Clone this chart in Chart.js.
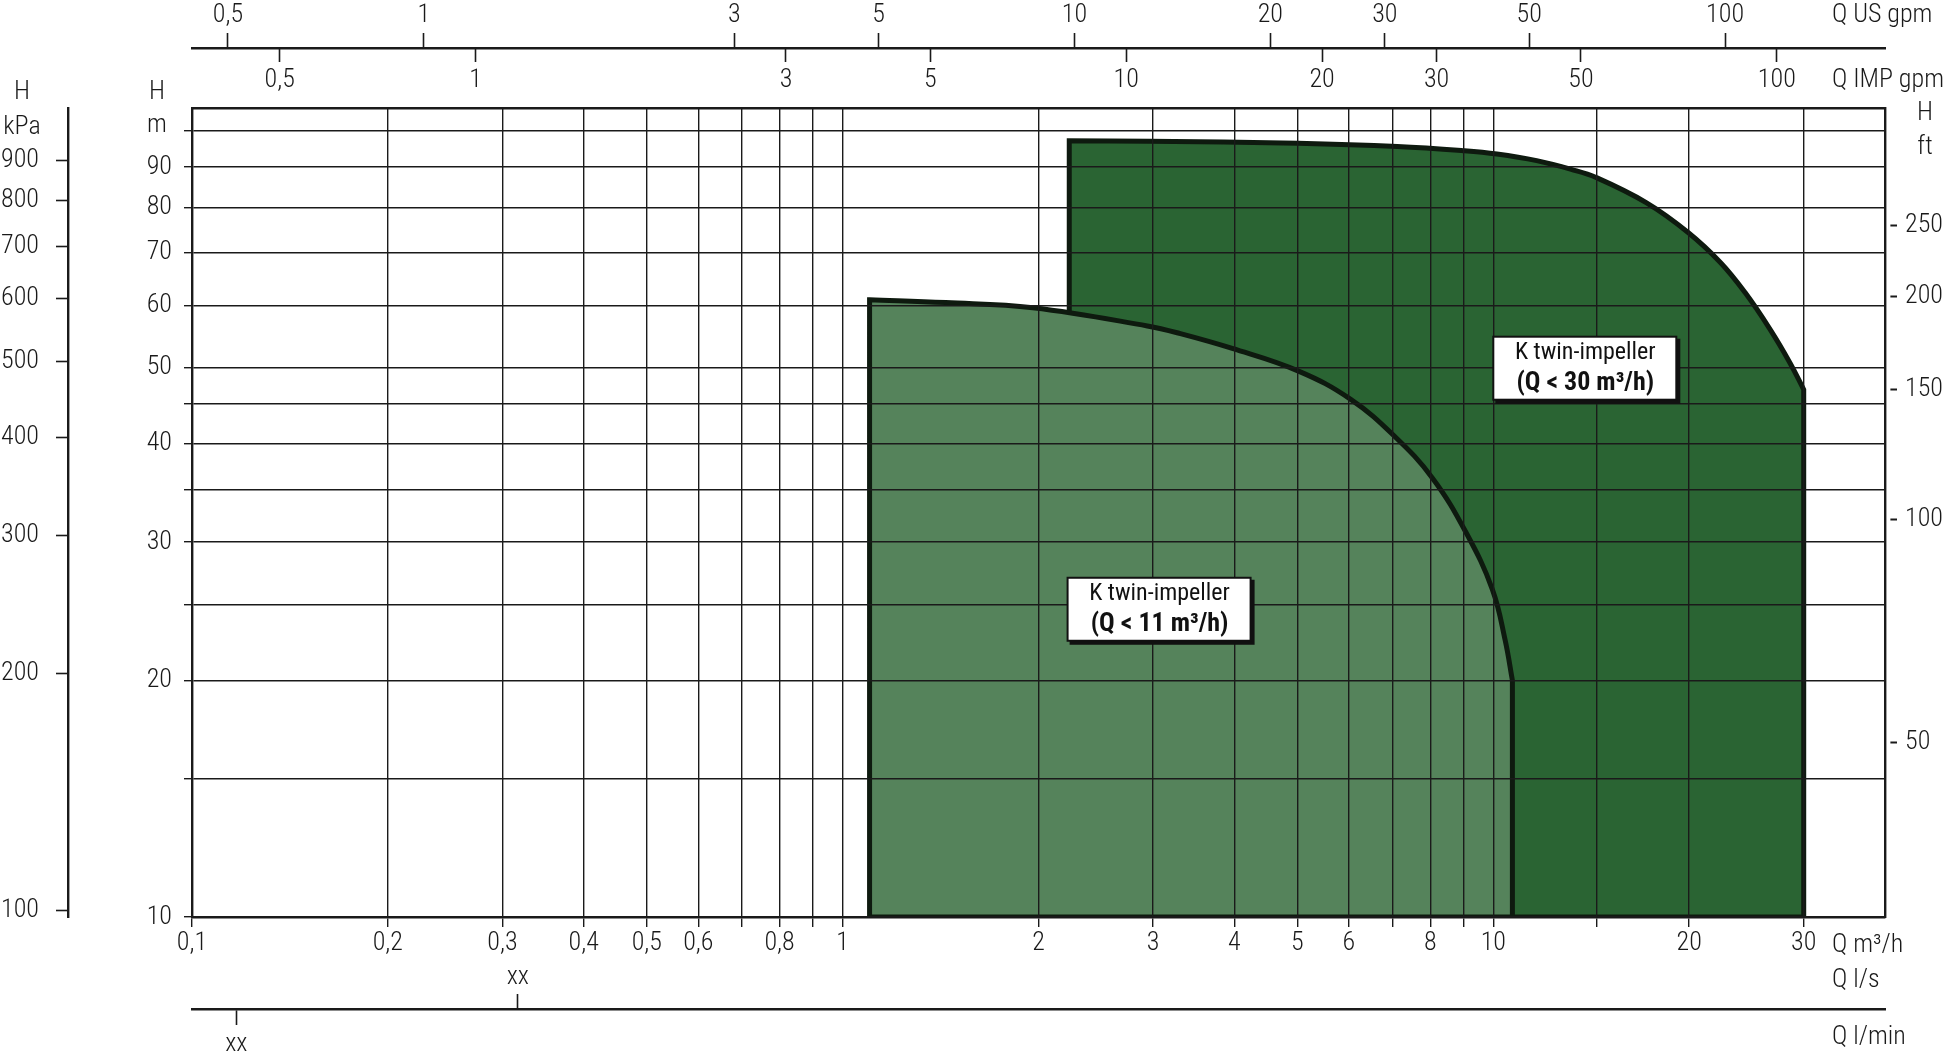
<!DOCTYPE html>
<html>
<head>
<meta charset="utf-8">
<script src="https://cdn.jsdelivr.net/npm/chart.js@4.4.1/dist/chart.umd.min.js"></script>
<style>
  html, body { margin: 0; padding: 0; background: #fff; }
  canvas { display: block; }
</style>
</head>
<body>
<canvas id="chart" width="1946" height="1053"></canvas>
<script>
// valores (Q en m3/h, H en m)
const qTicks = [0.1, 0.2, 0.3, 0.4, 0.5, 0.6, 0.7, 0.8, 0.9, 1, 2, 3, 4, 5, 6, 7, 8, 9, 10, 14.4, 20, 30];
const qTickLabels = ['0,1', '0,2', '0,3', '0,4', '0,5', '0,6', '', '0,8', '', '1', '2', '3', '4', '5', '6', '', '8', '', '10', '', '20', '30'];
const hTicks = [10, 15, 20, 25, 30, 35, 40, 45, 50, 60, 70, 80, 90, 100];
const hTickLabels = ['10', '', '20', '', '30', '', '40', '', '50', '60', '70', '80', '90', ''];
const kpaTicks = [100, 200, 300, 400, 500, 600, 700, 800, 900];
const ftTicks = [50, 100, 150, 200, 250];
const usTicks = [0.5, 1, 3, 5, 10, 20, 30, 50, 100];
const usTickLabels = ['0,5', '1', '3', '5', '10', '20', '30', '50', '100'];
const impTicks = [0.5, 1, 3, 5, 10, 20, 30, 50, 100];
const impTickLabels = ['0,5', '1', '3', '5', '10', '20', '30', '50', '100'];
const lsTicks = [0.088];
const lsTickLabels = ['xx'];
const lminTicks = [1.95];
const lminTickLabels = ['xx'];

// curva superior del campo K twin-impeller (Q < 11 m3/h)
const smallQ = [1.1, 1.44, 1.96, 2.94, 3.29, 3.97, 5.02, 6.03, 7.05, 8.06, 9.09, 9.97, 10.43, 10.7];
const smallH = [61.0, 60.5, 59.6, 56.5, 55.3, 52.9, 49.5, 45.6, 40.9, 36.2, 30.8, 26.1, 22.5, 20.0];
// curva superior del campo K twin-impeller (Q < 30 m3/h)
const largeQ = [2.23, 2.96, 5.01, 7.12, 9.03, 10.13, 11.66, 13.18, 14.39, 17.18, 19.93, 22.36, 24.38, 26.65, 28.58, 30];
const largeH = [97.2, 97.1, 96.5, 95.6, 94.4, 93.5, 91.7, 89.4, 87.3, 81.1, 74.3, 68.0, 62.3, 55.9, 50.7, 46.9];

const noteQ = [3.07, 13.85];
const noteH = [24.6, 49.85];
const noteLines = [['K twin-impeller', '(Q < 11 m³/h)'], ['K twin-impeller', '(Q < 30 m³/h)']];

// rangos y conversiones
const qMin = 0.1, qMax = 40, hMin = 10, hMax = 107;
const US_GPM = 0.227125, IMP_GPM = 0.272765, KPA = 9.80665;
const ftMin = 29, ftMax = 360;

const fam = "'Roboto Condensed', 'DejaVu Sans Condensed', sans-serif";
const ink = '#1a1a1a';
Chart.defaults.font.family = fam;
Chart.defaults.font.size = 26;
Chart.defaults.font.weight = '300';
Chart.defaults.color = ink;

function setTicks(values) {
  return s => { s.ticks = values.map(v => ({ value: v })); };
}

// campo cerrado: curva + bordes rectos hasta H minima (esquinas duplicadas para que queden vivas)
function field(qs, hs) {
  const n = qs.length - 1;
  const pts = [
    { x: qs[0], y: hMin }, { x: qs[0], y: hMin },
    { x: qs[0], y: hs[0] }
  ];
  qs.forEach((q, i) => pts.push({ x: q, y: hs[i] }));
  pts.push({ x: qs[n], y: hs[n] }, { x: qs[n], y: hMin }, { x: qs[n], y: hMin }, { x: qs[0], y: hMin }, { x: qs[0], y: hMin });
  return pts;
}

function sideAxis(opts) {
  return Object.assign({
    type: 'logarithmic',
    ticks: { autoSkip: false, maxRotation: 0, minRotation: 0, color: ink },
    grid: { drawOnChartArea: false, color: ink, tickColor: ink, tickWidth: 1.6 },
    border: { color: ink, width: 2.4 }
  }, opts);
}

const captions = {
  id: 'captions',
  afterDraw(chart) {
    const ctx = chart.ctx;
    const a = chart.chartArea;
    const { x, y, kpa, ft, us, imp, ls, lmin } = chart.scales;
    ctx.save();
    ctx.fillStyle = ink;
    ctx.font = '300 26px ' + fam;
    ctx.textBaseline = 'middle';
    ctx.textAlign = 'center';
    ctx.fillText('H', kpa.left + 22, a.top - 16);
    ctx.fillText('kPa', kpa.left + 22, a.top + 19);
    ctx.fillText('H', y.left + 89, a.top - 16);
    ctx.fillText('m', y.left + 89, a.top + 17);
    ctx.fillText('H', ft.left + 40, a.top + 5);
    ctx.fillText('ft', ft.left + 40, a.top + 39);

    ctx.textAlign = 'left';
    const cx = a.right - 53;
    ctx.fillText('Q US gpm', cx, us.top + 15);
    ctx.fillText('Q IMP gpm', cx, imp.top + 32);
    ctx.fillText('Q m³/h', cx, x.top + 28);
    ctx.fillText('Q l/s', cx, ls.top + 23);
    ctx.fillText('Q l/min', cx, lmin.top + 28);

    // cajas de texto sobre los campos
    noteQ.forEach((q, i) => {
      const px = x.getPixelForValue(q), py = y.getPixelForValue(noteH[i]);
      const w = 184, h = 64;
      ctx.fillStyle = '#111';
      ctx.fillRect(px - w / 2 + 2, py - h / 2 + 2, w + 1, h + 1);
      ctx.fillStyle = '#fff';
      ctx.fillRect(px - w / 2, py - h / 2, w - 1, h - 1);
      ctx.lineWidth = 2;
      ctx.strokeStyle = '#111';
      ctx.strokeRect(px - w / 2, py - h / 2, w - 1, h - 1);
      ctx.fillStyle = '#111';
      ctx.textAlign = 'center';
      ctx.font = '24px ' + fam;
      ctx.fillText(noteLines[i][0], px, py - 16);
      ctx.font = 'bold 26px ' + fam;
      ctx.fillText(noteLines[i][1], px, py + 15);
    });
    ctx.restore();
  }
};

new Chart(document.getElementById('chart'), {
  type: 'line',
  data: {
    datasets: [
      {
        label: noteLines[0].join(' '),
        data: field(smallQ, smallH),
        backgroundColor: '#55835b',
        borderColor: '#0e1a0f',
        borderWidth: 5,
        fill: 'shape',
        pointRadius: 0,
        tension: 0.4,
        order: 0
      },
      {
        label: noteLines[1].join(' '),
        data: field(largeQ, largeH),
        backgroundColor: '#2a6433',
        borderColor: '#0e1a0f',
        borderWidth: 5,
        fill: 'shape',
        pointRadius: 0,
        tension: 0.4,
        order: 1
      }
    ]
  },
  options: {
    responsive: false,
    animation: false,
    events: [],
    layout: { padding: 0 },
    plugins: { legend: { display: false }, tooltip: { enabled: false } },
    scales: {
      x: sideAxis({
        position: 'bottom', weight: 0, min: qMin, max: qMax,
        afterBuildTicks: setTicks(qTicks),
        afterFit: s => { s.height = 40; },
        grid: { drawOnChartArea: true, color: ink, lineWidth: 1.4, tickLength: 10, tickColor: ink, tickWidth: 1.4, z: 1 },
        border: { color: ink, width: 2.4, z: 1 },
        ticks: { callback: (v, i) => qTickLabels[i], padding: 1, autoSkip: false, maxRotation: 0, color: ink }
      }),
      ls: sideAxis({
        axis: 'x', position: 'bottom', weight: 1, min: qMin / 3.6, max: qMax / 3.6,
        afterBuildTicks: setTicks(lsTicks),
        afterFit: s => { s.height = 52; },
        grid: { drawOnChartArea: false, tickLength: 52, tickColor: ink, tickWidth: 1.6, tickBorderDash: [15, 37], tickBorderDashOffset: 15 },
        border: { display: false },
        ticks: { callback: (v, i) => lsTickLabels[i], padding: -47, autoSkip: false, maxRotation: 0, color: ink }
      }),
      lmin: sideAxis({
        axis: 'x', position: 'bottom', weight: 2, min: qMin * 1000 / 60, max: qMax * 1000 / 60,
        afterBuildTicks: setTicks(lminTicks),
        afterFit: s => { s.height = 44; },
        grid: { drawOnChartArea: false, tickLength: 16, tickColor: ink, tickWidth: 1.6 },
        ticks: { callback: (v, i) => lminTickLabels[i], padding: 4, autoSkip: false, maxRotation: 0, color: ink }
      }),
      us: sideAxis({
        axis: 'x', position: 'top', weight: 1, min: qMin / US_GPM, max: qMax / US_GPM,
        afterBuildTicks: setTicks(usTicks),
        afterFit: s => { s.height = 48; },
        grid: { drawOnChartArea: false, tickLength: 15, tickColor: ink, tickWidth: 1.6 },
        ticks: { callback: (v, i) => usTickLabels[i], padding: 2, autoSkip: false, maxRotation: 0, color: ink }
      }),
      imp: sideAxis({
        axis: 'x', position: 'top', weight: 0, min: qMin / IMP_GPM, max: qMax / IMP_GPM,
        afterBuildTicks: setTicks(impTicks),
        afterFit: s => { s.height = 60; },
        grid: { drawOnChartArea: false, tickLength: 60, tickColor: ink, tickWidth: 1.6, tickBorderDash: [14, 100] },
        ticks: { callback: (v, i) => impTickLabels[i], padding: -48, autoSkip: false, maxRotation: 0, color: ink }
      }),
      y: sideAxis({
        position: 'left', weight: 0, min: hMin, max: hMax,
        afterBuildTicks: setTicks(hTicks),
        afterFit: s => { s.width = 124; },
        grid: { drawOnChartArea: true, color: ink, lineWidth: 1.4, tickLength: 8, tickColor: ink, tickWidth: 1.4, z: 1 },
        border: { color: ink, width: 2.4, z: 1 },
        ticks: { callback: (v, i) => hTickLabels[i], padding: 12, autoSkip: false, color: ink }
      }),
      kpa: sideAxis({
        axis: 'y', position: 'left', weight: 1, min: hMin * KPA, max: hMax * KPA,
        afterBuildTicks: setTicks(kpaTicks),
        afterFit: s => { s.width = 68; },
        grid: { drawOnChartArea: false, tickLength: 12, tickColor: ink, tickWidth: 1.6 },
        ticks: { callback: v => String(v), padding: 17, autoSkip: false, color: ink }
      }),
      ft: sideAxis({
        axis: 'y', position: 'right', weight: 0, min: ftMin, max: ftMax,
        afterBuildTicks: setTicks(ftTicks),
        afterFit: s => { s.width = 61; },
        grid: { drawOnChartArea: false, tickLength: 12, tickColor: ink, tickWidth: 2, tickBorderDash: [8, 4], tickBorderDashOffset: 8 },
        border: { color: ink, width: 2.4, z: 1 },
        ticks: { callback: v => String(v), padding: 8, autoSkip: false, color: ink }
      })
    }
  },
  plugins: [captions]
});
</script>
</body>
</html>
